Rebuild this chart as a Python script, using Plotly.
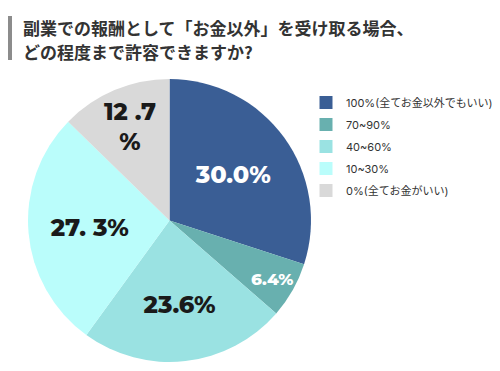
import plotly.graph_objects as go

categories = ["100%(全てお金以外でもいい)", "70~90%", "40~60%", "10~30%", "0%(全てお金がいい)"]
values = [30.0, 6.4, 23.6, 27.3, 12.7]
slice_text = ["30.0%", "6.4%", "23.6%", "27. 3%", "12 .7<br>%"]
colors = ["#3A5E95", "#68B0AF", "#9AE2E2", "#BAFDFB", "#D9D9D9"]
text_colors = ["#FFFFFF", "#FFFFFF", "#1A1A1A", "#1A1A1A", "#1A1A1A"]
title_lines = ["副業での報酬として「お金以外」を受け取る場合、", "どの程度まで許容できますか?"]

W, H = 500, 371
OFF = 8  # page body margin in the browser

def px(X):
    return (X - OFF) / W

def py(Y):
    return 1 - (Y - OFF) / H

CX, CY, R = 169.5, 220.5, 141.5  # pie centre / radius in screen pixels

fig = go.Figure(go.Pie(
    labels=categories,
    values=values,
    text=slice_text,
    texttemplate="%{text}",
    textposition="inside",
    insidetextorientation="horizontal",
    sort=False,
    direction="clockwise",
    rotation=0,
    marker=dict(colors=colors, line=dict(width=0)),
    textfont=dict(family="Montserrat, Inter, Noto Sans", size=24, color=text_colors, weight=800),
    domain=dict(x=[px(CX - R), px(CX + R)], y=[py(CY + R), py(CY - R)]),
    hoverinfo="label+percent",
    showlegend=False,
))

# legend entries, one per category, so they can be spaced like the reference
for name, col in zip(categories, colors):
    fig.add_trace(go.Scatter(
        x=[None], y=[None], mode="markers", name=name,
        marker=dict(symbol="square", size=13, color=col),
        legendgroup=name, showlegend=True, hoverinfo="skip",
    ))

fig.add_shape(type="rect", xref="paper", yref="paper",
              x0=px(8), x1=px(12), y0=py(60), y1=py(16),
              fillcolor="#8C8C8C", line=dict(width=0))

for i, line in enumerate(title_lines):
    fig.add_annotation(
        text="<b>" + line + "</b>",
        xref="paper", yref="paper", x=px(21), y=py(27 + 24 * i),
        xanchor="left", yanchor="middle", align="left", showarrow=False,
        font=dict(family="Noto Sans CJK JP", size=17, color="#333333"),
    )

fig.update_layout(
    width=W, height=H,
    margin=dict(l=0, r=0, t=0, b=0),
    paper_bgcolor="white",
    plot_bgcolor="white",
    showlegend=True,
    xaxis=dict(visible=False), yaxis=dict(visible=False),
    legend=dict(x=px(306), y=py(88), xanchor="left", yanchor="top",
                font=dict(family="Inter, Noto Sans CJK JP", size=11, color="#333333"),
                itemwidth=30, tracegroupgap=3, bgcolor="rgba(0,0,0,0)"),
)

fig.write_html("out.html")
